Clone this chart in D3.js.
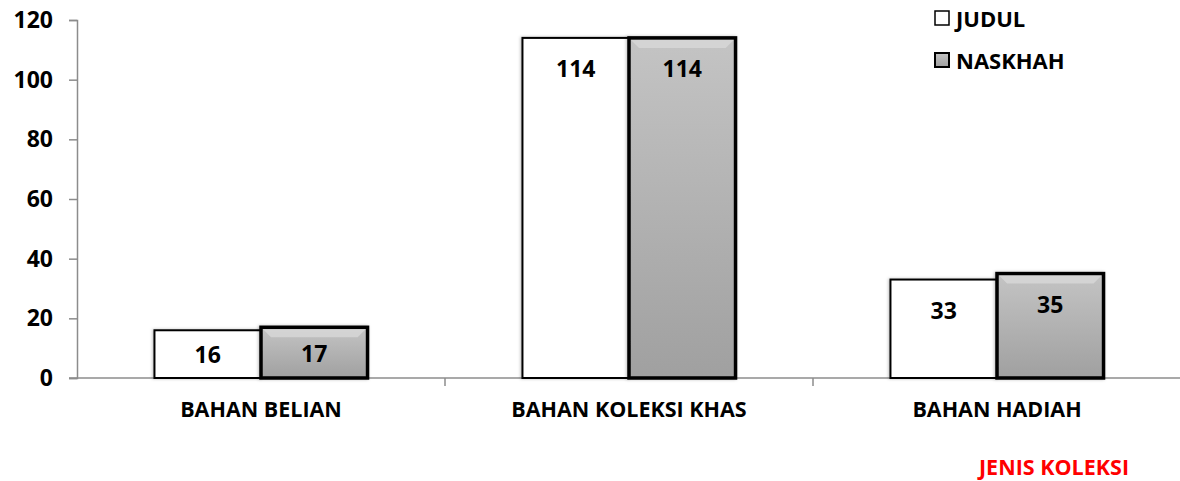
<!DOCTYPE html>
<html>
<head>
<meta charset="utf-8">
<script src="https://cdn.jsdelivr.net/npm/d3@7"></script>
<style>
  body { margin: 0; background: #fff; }
  svg text { font-family: "Open Sans", sans-serif; font-weight: bold; }
</style>
</head>
<body>
<div id="container"></div>
<script>
/* data */
var categories = ["BAHAN BELIAN", "BAHAN KOLEKSI KHAS", "BAHAN HADIAH"];
var seriesNames = ["JUDUL", "NASKHAH"];
var judul = [16, 114, 33];
var naskhah = [17, 114, 35];
var yTicks = [0, 20, 40, 60, 80, 100, 120];

var w = 1180, h = 481;
var margin = {top: 20, right: 0, bottom: 103, left: 77};
var plotW = 1104, plotH = 358;

var svg = d3.select("#container").append("svg")
	.attr("width", w)
	.attr("height", h);

/* gradient for the grey series, soft shadow for bars */
var defs = svg.append("defs");
var grad = defs.append("linearGradient")
	.attr("id", "greyGrad")
	.attr("x1", 0).attr("y1", 0).attr("x2", 0).attr("y2", 1);
grad.append("stop").attr("offset", "0%").attr("stop-color", "#c4c4c4");
grad.append("stop").attr("offset", "100%").attr("stop-color", "#a0a0a0");

var shadow = defs.append("filter").attr("id", "shadow")
	.attr("x", "-10%").attr("y", "-10%").attr("width", "120%").attr("height", "120%");
shadow.append("feDropShadow")
	.attr("dx", -1).attr("dy", 0).attr("stdDeviation", 1.5)
	.attr("flood-color", "#000").attr("flood-opacity", 0.25);

var g = svg.append("g")
	.attr("transform", "translate(" + margin.left + "," + margin.top + ")");

/* scales */
var xScale = d3.scaleBand()
	.domain(categories)
	.range([0, plotW]);
var groupW = xScale.bandwidth() * 0.579;
var xSub = d3.scaleBand()
	.domain(seriesNames)
	.range([(xScale.bandwidth() - groupW) / 2, (xScale.bandwidth() + groupW) / 2]);
var yScale = d3.scaleLinear()
	.domain([0, 120])
	.range([plotH, 0]);

/* y axis */
var yAxis = d3.axisLeft(yScale).tickValues(yTicks).tickSize(8).tickPadding(16);
var ya = g.append("g").call(yAxis);
ya.select(".domain").attr("stroke", "#8c8c8c").attr("stroke-width", 1.5);
ya.selectAll(".tick line").attr("stroke", "#8c8c8c").attr("stroke-width", 1.5);
ya.selectAll("text").style("font-size", "23px").attr("fill", "#000");

/* x axis */
var xAxis = d3.axisBottom(xScale).tickSize(0).tickPadding(24);
var xa = g.append("g")
	.attr("transform", "translate(0," + plotH + ")")
	.call(xAxis);
xa.select(".domain").attr("stroke", "#8c8c8c").attr("stroke-width", 1.5)
	.attr("d", "M-8,0H" + (plotW + 2));
xa.selectAll("text").style("font-size", "21.5px").attr("fill", "#000");
// separators between categories
g.append("g").selectAll("line")
	.data(categories.slice(1))
	.join("line")
	.attr("x1", d => xScale(d)).attr("x2", d => xScale(d))
	.attr("y1", plotH).attr("y2", plotH + 8)
	.attr("stroke", "#8c8c8c").attr("stroke-width", 1.5);

/* bars */
var rows = categories.map((c, i) => ({cat: c, vals: [
	{s: "JUDUL", v: judul[i]},
	{s: "NASKHAH", v: naskhah[i]}
]}));

var groups = g.selectAll(".grp")
	.data(rows)
	.join("g")
	.attr("class", "grp")
	.attr("transform", d => "translate(" + xScale(d.cat) + ",0)");

groups.selectAll("rect")
	.data(d => d.vals)
	.join("rect")
	.attr("x", d => xSub(d.s))
	.attr("y", d => yScale(d.v))
	.attr("width", xSub.bandwidth())
	.attr("height", d => plotH - yScale(d.v))
	.attr("fill", d => d.s === "JUDUL" ? "#ffffff" : "url(#greyGrad)")
	.attr("stroke", "#000")
	.attr("stroke-width", d => d.s === "JUDUL" ? 2 : 3.5)
	.attr("filter", "url(#shadow)");

// light bevel on the grey bars
groups.selectAll(".bevel")
	.data(d => d.vals.filter(v => v.s === "NASKHAH"))
	.join("path")
	.attr("class", "bevel")
	.attr("d", d => {
		var x0 = xSub(d.s) + 2, x1 = xSub(d.s) + xSub.bandwidth() - 2, y0 = yScale(d.v) + 2;
		return "M" + x0 + "," + y0 + "H" + x1 + "l-8,8H" + (x0 + 8) + "Z";
	})
	.attr("fill", "#dcdcdc")
	.attr("opacity", 0.7);

groups.selectAll(".lbl")
	.data(d => d.vals)
	.join("text")
	.attr("class", "lbl")
	.attr("x", d => xSub(d.s) + xSub.bandwidth() / 2)
	.attr("y", d => {
		var top = yScale(d.v), hh = plotH - top;
		return top + Math.min(30, hh / 2);
	})
	.attr("text-anchor", "middle")
	.attr("dominant-baseline", "central")
	.style("font-size", "23px")
	.attr("fill", "#000")
	.text(d => d.v);

/* legend */
var legend = svg.append("g").attr("transform", "translate(935,0)");
var li = legend.selectAll("g")
	.data(seriesNames)
	.join("g")
	.attr("transform", (d, i) => "translate(0," + (18 + i * 42) + ")");
li.append("rect")
	.attr("x", 0).attr("y", -7)
	.attr("width", 14).attr("height", 14)
	.attr("fill", d => d === "JUDUL" ? "#fff" : "url(#greyGrad)")
	.attr("stroke", "#000")
	.attr("stroke-width", d => d === "JUDUL" ? 1.5 : 2);
li.append("text")
	.attr("x", 21).attr("y", 0)
	.attr("dominant-baseline", "central")
	.style("font-size", "22px")
	.attr("fill", "#000")
	.text(d => d);

/* axis title */
svg.append("text")
	.attr("x", 1054).attr("y", 466)
	.attr("text-anchor", "middle")
	.attr("dominant-baseline", "central")
	.style("font-size", "21.5px")
	.attr("fill", "#ff0000")
	.text("JENIS KOLEKSI");
</script>
</body>
</html>
